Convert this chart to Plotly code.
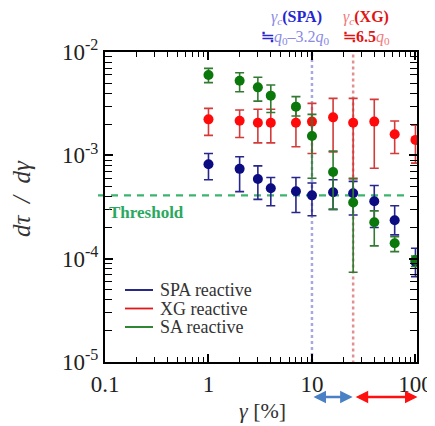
import math
import plotly.graph_objects as go

# ---------------- data ----------------
gamma = [1, 2, 3, 4, 7, 10, 16, 25, 40, 63, 100]

spa_y  = [8.2e-4, 7.4e-4, 5.9e-4, 4.8e-4, 4.5e-4, 4.1e-4, 4.4e-4, 4.3e-4, 3.6e-4, 2.35e-4, 9.3e-5]
spa_hi = [1.04e-3, 9.7e-4, 7.9e-4, 6.1e-4, 6.1e-4, 5.4e-4, 5.8e-4, 5.6e-4, 5.1e-4, 3.25e-4, 1.26e-4]
spa_lo = [5.8e-4, 4.45e-4, 3.75e-4, 3.25e-4, 2.8e-4, 2.6e-4, 3.0e-4, 2.65e-4, 2.0e-4, 1.7e-4, 6.7e-5]

xg_y  = [2.23e-3, 2.16e-3, 2.07e-3, 2.07e-3, 2.07e-3, 2.12e-3, 2.33e-3, 2.07e-3, 2.12e-3, 1.6e-3, 1.41e-3]
xg_hi = [2.85e-3, 2.75e-3, 2.79e-3, 2.79e-3, 2.85e-3, 3.18e-3, 3.56e-3, 3.56e-3, 3.48e-3, 2.15e-3, 1.96e-3]
xg_lo = [1.56e-3, 1.49e-3, 1.32e-3, 1.32e-3, 1.21e-3, 1.04e-3, 1.08e-3, 5.9e-4, 7.5e-4, 1.04e-3, 8.4e-4]

sa_y  = [6.0e-3, 5.27e-3, 4.55e-3, 3.78e-3, 2.96e-3, 1.54e-3, 6.9e-4, 3.5e-4, 2.25e-4, 1.41e-4, 9.7e-5]
sa_hi = [6.95e-3, 6.3e-3, 5.7e-3, 4.8e-3, 3.7e-3, 2.49e-3, 1.1e-3, 6.0e-4, 2.9e-4, 1.63e-4, 1.06e-4]
sa_lo = [5.05e-3, 4.13e-3, 3.35e-3, 2.6e-3, 2.4e-3, 6.0e-4, 3.0e-4, 7.4e-5, 1.33e-4, 1.17e-4, 8.4e-5]

threshold = 4.1e-4
gamma_c_spa = 10
gamma_c_xg = 25

x_tickvals = [0.1, 1, 10, 100]
x_ticktext = ["0.1", "1", "10", "100"]
y_tickvals = [1e-5, 1e-4, 1e-3, 1e-2]
y_ticktext = ["10<sup>-5</sup>", "10<sup>-4</sup>", "10<sup>-3</sup>", "10<sup>-2</sup>"]

series_names = ["SPA reactive", "XG reactive", "SA reactive"]

# ---------------- styles ----------------
FONT = "Liberation Serif, Times New Roman, serif"
col_marker = {"SPA reactive": "#0b0b82", "XG reactive": "#ff0a0a", "SA reactive": "#0a780a"}
col_err = {"SPA reactive": "#26268c", "XG reactive": "#d43a3a", "SA reactive": "#327a32"}
col_legend = {"SPA reactive": "#10107a", "XG reactive": "#e01818", "SA reactive": "#1a7a1a"}

def minor_vals(decades):
    out = []
    for d in decades:
        for k in range(2, 10):
            out.append(k * d)
    return out

fig = go.Figure()

data = {
    "SPA reactive": (spa_y, spa_hi, spa_lo),
    "XG reactive": (xg_y, xg_hi, xg_lo),
    "SA reactive": (sa_y, sa_hi, sa_lo),
}

for name in series_names:
    y, hi, lo = data[name]
    fig.add_trace(go.Scatter(
        x=gamma, y=y, mode="markers", name=name, showlegend=False,
        marker=dict(size=10, color=col_marker[name]),
        error_y=dict(type="data", symmetric=False,
                     array=[h - v for h, v in zip(hi, y)],
                     arrayminus=[v - l for v, l in zip(y, lo)],
                     color=col_err[name], thickness=1.6, width=4.5),
    ))

# the page body adds an 8px offset: picture px -> paper coords of the plot area
def px_x(px):
    return (px - 105) / 312.0

def px_y(py):
    return (362 - py) / 310.0

# threshold dashed line
fig.add_shape(type="line", xref="paper", yref="y", x0=px_x(98), x1=px_x(407),
              y0=threshold, y1=threshold,
              line=dict(color="#3cb46e", width=2.2, dash="7px,6px"), layer="below")

# vertical dotted lines
fig.add_shape(type="line", xref="x", yref="paper",
              x0=gamma_c_spa, x1=gamma_c_spa, y0=0, y1=1,
              line=dict(color="#a8a8e0", width=2.5, dash="dot"), layer="below")
fig.add_shape(type="line", xref="x", yref="paper",
              x0=gamma_c_xg, x1=gamma_c_xg, y0=-0.005, y1=1,
              line=dict(color="#e09090", width=2.5, dash="dot"), layer="below")

ann = []
# legend (lines + labels)
for i, name in enumerate(series_names):
    yy = px_y(290 + 18.5 * i)
    fig.add_shape(type="line", xref="paper", yref="paper", x0=px_x(125), x1=px_x(153),
                  y0=yy, y1=yy, line=dict(color=col_legend[name], width=1.8))
    ann.append(dict(xref="paper", yref="paper", x=px_x(159), y=yy, xanchor="left", yanchor="middle",
                    text=name, showarrow=False, borderpad=0,
                    font=dict(family=FONT, size=18, color="#333")))

ann.append(dict(xref="paper", yref="paper", x=px_x(107), y=px_y(213), xanchor="left", yanchor="middle",
                text="<b>Threshold</b>", showarrow=False,
                font=dict(family=FONT, size=17, color="#2aa860")))
ann.append(dict(xref="paper", yref="paper", x=px_x(21), y=px_y(199), xanchor="center", yanchor="middle",
                text="<i>dτ\u2002/\u2002dγ</i>", textangle=-90, showarrow=False, borderpad=0,
                font=dict(family=FONT, size=25, color="#333")))
ann.append(dict(xref="paper", yref="paper", x=px_x(262), y=px_y(410), xanchor="center", yanchor="middle",
                text="<i>γ</i> [%]", showarrow=False,
                font=dict(family=FONT, size=22, color="#333")))
ann.append(dict(xref="paper", yref="paper", x=px_x(296), y=px_y(17), xanchor="center", yanchor="middle",
                text='<span style="color:#8a8ae6"><i>γ<sub>c</sub></i></span><span style="color:#2626d2"><b>(SPA)</b></span>',
                showarrow=False, font=dict(family=FONT, size=16)))
ann.append(dict(xref="paper", yref="paper", x=px_x(295), y=px_y(37), xanchor="center", yanchor="middle",
                text='<span style="color:#2626d2"><b>≒</b></span><span style="color:#8a8ae6"><i>q</i><sub>0</sub>–3.2<i>q</i><sub>0</sub></span>',
                showarrow=False, font=dict(family=FONT, size=16)))
ann.append(dict(xref="paper", yref="paper", x=px_x(366), y=px_y(17), xanchor="center", yanchor="middle",
                text='<span style="color:#f07a7a"><i>γ<sub>c</sub></i></span><span style="color:#e01414"><b>(XG)</b></span>',
                showarrow=False, font=dict(family=FONT, size=16)))
ann.append(dict(xref="paper", yref="paper", x=px_x(366), y=px_y(37), xanchor="center", yanchor="middle",
                text='<span style="color:#e01414"><b>≒6.5</b></span><span style="color:#f07a7a"><i>q</i><sub>0</sub></span>',
                showarrow=False, font=dict(family=FONT, size=16)))
# arrows (annotation coords on log axes are log10 values)
ann.append(dict(xref="x", yref="paper", axref="x", ayref="pixel",
                x=math.log10(gamma_c_xg) - 0.005, y=px_y(397), ax=math.log10(gamma_c_spa), ay=0,
                text="", showarrow=True, arrowhead=2, startarrowhead=2, arrowside="end+start",
                arrowsize=1, startarrowsize=1, arrowwidth=2.5, arrowcolor="#4a80c4"))
ann.append(dict(xref="x", yref="paper", axref="x", ayref="pixel",
                x=2.02, y=px_y(397), ax=math.log10(gamma_c_xg) + 0.01, ay=0,
                text="", showarrow=True, arrowhead=2, startarrowhead=2, arrowside="end+start",
                arrowsize=1, startarrowsize=1, arrowwidth=2.5, arrowcolor="#ff1010"))

axis_common = dict(
    type="log", showline=True, linecolor="black", linewidth=2, mirror="allticks",
    ticks="inside", ticklen=8, tickwidth=1.5, tickcolor="black",
    showgrid=False, zeroline=False, automargin=False,
    tickfont=dict(family=FONT, size=23, color="#222"),
)

fig.update_xaxes(**axis_common, range=[-1, 2.015], tickmode="array",
                 tickvals=x_tickvals, ticktext=x_ticktext,
                 minor=dict(tickmode="array", tickvals=minor_vals([0.1, 1, 10]),
                            ticks="inside", ticklen=5, tickwidth=1.2, tickcolor="black", showgrid=False))
fig.update_yaxes(**axis_common, range=[-5, -2], tickmode="array",
                 tickvals=y_tickvals, ticktext=y_ticktext,
                 minor=dict(tickmode="array", tickvals=minor_vals([1e-5, 1e-4, 1e-3]),
                            ticks="inside", ticklen=7, tickwidth=1.2, tickcolor="black", showgrid=False))

fig.update_layout(
    width=427, height=418,
    margin=dict(l=97, r=18, t=44, b=64),
    plot_bgcolor="white", paper_bgcolor="white",
    font=dict(family=FONT, color="#333"),
    annotations=ann,
    showlegend=False,
)

fig.write_html("out.html")
